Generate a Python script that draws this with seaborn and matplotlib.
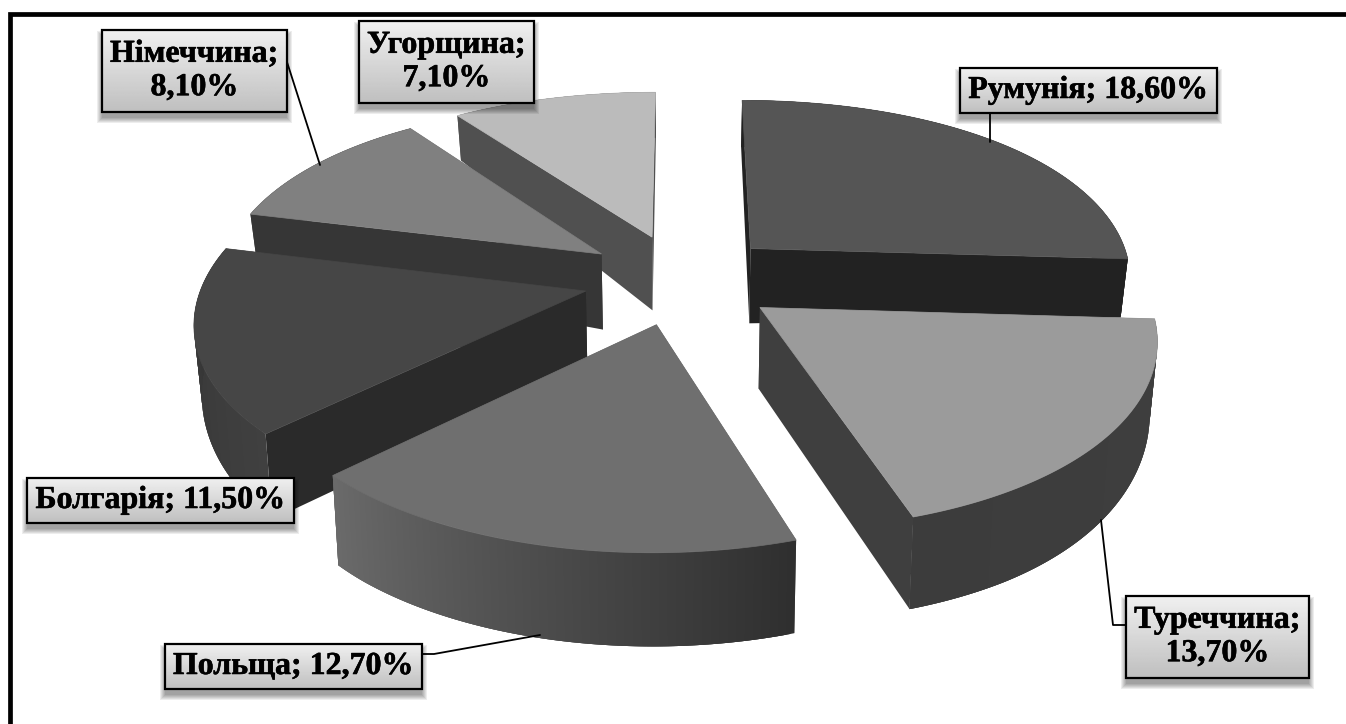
import matplotlib
matplotlib.use("Agg")
import matplotlib.pyplot as plt
import matplotlib.patheffects as pe
import numpy as np
import seaborn as sns
from matplotlib.patches import Rectangle

# clockwise from 12 o'clock
countries = ["Румунія", "Туреччина", "Польща", "Болгарія", "Німеччина", "Угорщина"]
shares = [18.6, 13.7, 12.7, 11.5, 8.1, 7.1]
wrapped = [False, True, False, False, True, True]

top_colors = ["#555555", "#9b9b9b", "#6f6f6f", "#464646", "#808080", "#bbbbbb"]
face_colors = ["#222222", "#3f3f3f", "#484848", "#2a2a2a", "#363636", "#505050"]
arc_colors = [("#222222", "#222222"), ("#3f3f3f", "#3c3c3c"), ("#2f2f2f", "#6a6a6a"),
              ("#404040", "#333333"), ("#363636", "#363636"), ("#505050", "#505050")]
draw_order = [5, 0, 4, 3, 1, 2]

# label boxes in pixels: x0, y0, x1, y1
boxes = [(960, 68, 1217, 113), (1126, 596, 1309, 678), (165, 644, 422, 689),
         (27, 478, 294, 523), (102, 30, 287, 112), (359, 21, 534, 103)]
leaders = [[(990, 113), (990, 142)],
           [(1126, 625), (1113, 625), (1101, 520)],
           [(422, 654), (434, 654), (540, 635)],
           None,
           [(287, 62), (320, 165)],
           None]

CX, CY = 681, 279
RX, RY = 391, 182
PERSP = 0.14
EXPLODE = 0.25


def project_top(u, v):
    u = np.asarray(u, dtype=float)
    v = np.asarray(v, dtype=float)
    w = 1 + PERSP * v
    # small corrections for the outer rim, the plain projection runs a bit wide
    x = CX + RX * u / w * (1 - 0.012 * u ** 2)
    y = CY - RY * v / w * (1 - 0.018 * np.maximum(v, 0) ** 2)
    return x, y


def project_bottom(u, v):
    x, y = project_top(u, v)
    u = np.asarray(u, dtype=float)
    v = np.asarray(v, dtype=float)
    # wall height shrinks toward the back and the sides
    h = 80 - 28 * np.maximum(v, 0) + 11 * np.maximum(-v, 0) - 13 * u ** 2 * np.clip(1 + v, 0, 1)
    return x - (x - CX) * 0.016, y + h


def draw_wall(ax, u, v, color, z):
    xt, yt = project_top(u, v)
    xb, yb = project_bottom(u, v)
    ax.fill(np.r_[xt, xb[::-1]], np.r_[yt, yb[::-1]], color=color, lw=0, zorder=z)


def draw_slice(ax, start, stop, idx, z):
    mid = np.radians((start + stop) / 2)
    ou, ov = EXPLODE * np.cos(mid), EXPLODE * np.sin(mid)
    ang = np.radians(np.linspace(start, stop, 121))
    u = ou + np.cos(ang)
    v = ov + np.sin(ang)

    draw_wall(ax, np.array([ou, u[0]]), np.array([ov, v[0]]), face_colors[idx], z)
    draw_wall(ax, np.array([ou, u[-1]]), np.array([ov, v[-1]]), face_colors[idx], z)
    # overlap the strips so no seams show, and draw from the wall's far end
    pal = sns.blend_palette(arc_colors[idx], n_colors=len(ang) - 1)
    for k in range(len(ang) - 1):
        draw_wall(ax, u[k:k + 4], v[k:k + 4], pal[k], z)

    xt, yt = project_top(np.r_[ou, u], np.r_[ov, v])
    ax.fill(xt, yt, color=top_colors[idx], lw=0.5, zorder=z + 0.5)


def draw_label(ax, idx):
    x0, y0, x1, y1 = boxes[idx]
    for i in range(6):
        ax.add_patch(Rectangle((x0 - i, y0 + 6 - i), x1 - x0 + 2 * i, y1 - y0 + 2 * i,
                               color="black", alpha=0.07, lw=0, zorder=20))
    grad = np.linspace(0.94, 0.75, 64)[:, None]
    ax.imshow(grad, extent=(x0, x1, y1, y0), cmap="gray", vmin=0, vmax=1, aspect="auto", zorder=21)
    ax.add_patch(Rectangle((x0, y0), x1 - x0, y1 - y0, fill=False, ec="black", lw=1.6, zorder=22))
    value = f"{shares[idx]:.2f}%".replace(".", ",")
    sep = "\n" if wrapped[idx] else " "
    ax.text((x0 + x1) / 2, (y0 + y1) / 2, f"{countries[idx]};{sep}{value}", ha="center", va="center",
            fontsize=23, fontweight="bold", family="Liberation Serif", color="black",
            linespacing=1.2, zorder=23,
            path_effects=[pe.withStroke(linewidth=0.4, foreground="black")])


def main():
    sns.set_theme(style="white")
    fig = plt.figure(figsize=(13.46, 7.24), dpi=100, facecolor="white")
    ax = fig.add_axes([0, 0, 1, 1])

    sweep = np.array(shares) / sum(shares) * 360
    stops = 90 - np.cumsum(sweep)
    starts = np.r_[90, stops[:-1]]
    for z, idx in enumerate(draw_order):
        draw_slice(ax, starts[idx], stops[idx], idx, 2 + z)

    for idx, path in enumerate(leaders):
        if path is not None:
            xs, ys = zip(*path)
            ax.plot(xs, ys, color="black", lw=1.3, zorder=15)
    for idx in range(len(countries)):
        draw_label(ax, idx)

    # only the top and left of the outer frame are in the picture
    ax.plot([9.5, 9.5, 1346], [724, 14, 14], color="black", lw=3.4, solid_joinstyle="miter", zorder=30)

    ax.set_xlim(0, 1346)
    ax.set_ylim(724, 0)
    ax.axis("off")
    fig.savefig("out.png", dpi=100)
    plt.close(fig)


if __name__ == "__main__":
    main()
